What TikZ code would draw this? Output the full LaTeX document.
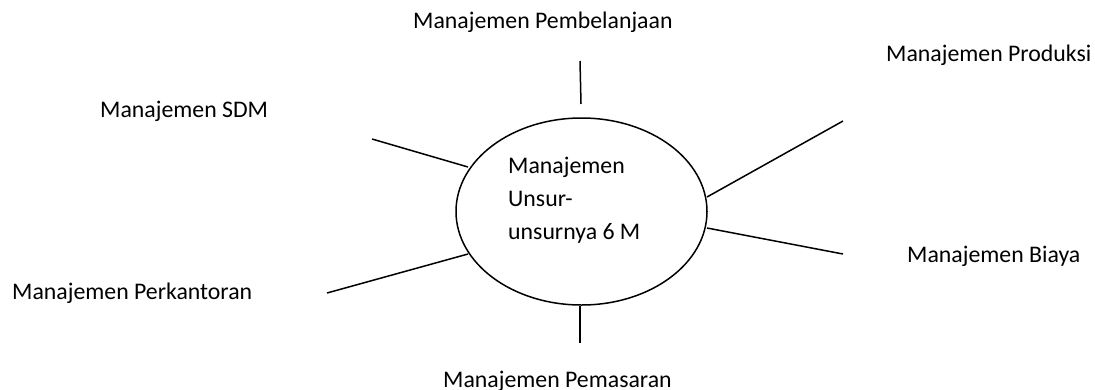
\documentclass[tikz,border=0pt]{standalone}
\usepackage{fontspec}
\setmainfont{Carlito}
\usetikzlibrary{shapes.geometric}
\begin{document}
\begin{tikzpicture}[x=1pt,y=-1pt,
  lbl/.style={anchor=base west,inner sep=0pt,font=\fontsize{23.8}{34}\selectfont},
  spoke/.style={line width=1.5pt},
  hub/.style={draw,line width=1.5pt,ellipse,minimum width=251pt,minimum height=187pt,inner sep=0pt}]
\useasboundingbox (0,0) rectangle (1095,389);
\node[hub] (c) at (581.5,211.5) {};
\node[lbl] (t1) at (508,173) {Manajemen};
\node[lbl] (t2) at (508,206) {Unsur-};
\node[lbl] (t3) at (508,239) {unsurnya 6 M};
\node[lbl] (pb) at (413,28) {Manajemen Pembelanjaan};
\node[lbl] (pr) at (886,61) {Manajemen Produksi};
\node[lbl] (sdm) at (100,117) {Manajemen SDM};
\node[lbl] (by) at (907,262) {Manajemen Biaya};
\node[lbl] (pk) at (12,299) {Manajemen Perkantoran};
\node[lbl] (pm) at (443,387) {Manajemen Pemasaran};
\coordinate (a1) at (580,61);  \coordinate (b1) at (581,104);
\coordinate (a2) at (843,121); \coordinate (b2) at (707,197);
\coordinate (a3) at (372,139); \coordinate (b3) at (468,167);
\coordinate (a4) at (843,254); \coordinate (b4) at (707,228);
\coordinate (a5) at (327,293); \coordinate (b5) at (468,254);
\coordinate (a6) at (580,343); \coordinate (b6) at (580,306);
\foreach \i in {1,...,6} \draw[spoke] (a\i) -- (b\i);
\end{tikzpicture}
\end{document}
